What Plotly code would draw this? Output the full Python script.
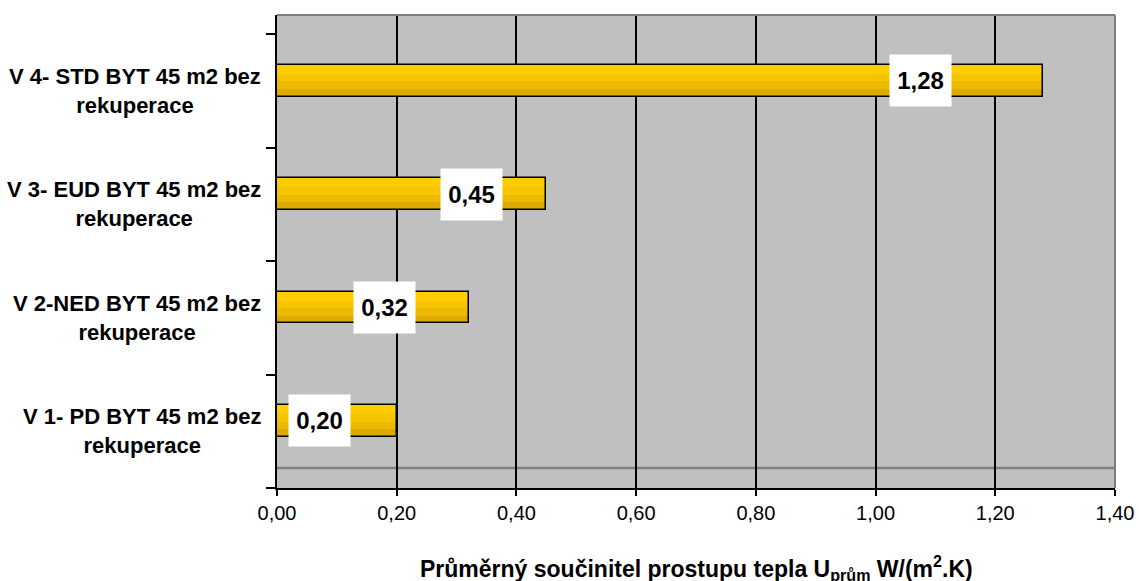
import plotly.graph_objects as go

# ---- data ----
categories = [
    "V 1- PD BYT 45 m2 bez<br>rekuperace",
    "V 2-NED BYT 45 m2 bez<br>rekuperace",
    "V 3- EUD BYT 45 m2 bez<br>rekuperace",
    "V 4- STD BYT 45 m2 bez<br>rekuperace",
]
values = [0.20, 0.32, 0.45, 1.28]
label_texts = ["0,20", "0,32", "0,45", "1,28"]
x_ticks = [0.0, 0.2, 0.4, 0.6, 0.8, 1.0, 1.2, 1.4]
x_title = "Průměrný součinitel prostupu tepla U<sub>prům</sub> W/(m<sup>2</sup>.K)"

# ---- styling ----
FONT = "Liberation Sans, Arial, sans-serif"
label_shift_px = [-46, -53, -43, -91]
pos = list(range(len(values)))
BW = 0.28

fig = go.Figure()
# gradient-like bands
bands = [(1.0, "#FFCC00"), (0.72, "#F6C400"), (0.48, "#ECBA00"), (0.24, "#DDAB00")]
for frac, col in bands:
    fig.add_trace(go.Bar(
        x=values, y=pos, orientation="h", base=0,
        width=BW * frac, offset=-BW / 2,
        marker=dict(color=col, line=dict(width=0)),
        hoverinfo="skip", showlegend=False,
    ))
# outline
fig.add_trace(go.Bar(
    x=values, y=pos, orientation="h", base=0,
    width=BW, offset=-BW / 2,
    marker=dict(color="rgba(0,0,0,0)", line=dict(color="black", width=1.5)),
    showlegend=False,
))

annotations = []
for i, (v, t) in enumerate(zip(values, label_texts)):
    annotations.append(dict(
        x=v, y=i, xref="x", yref="y", text="<b>" + t + "</b>",
        showarrow=False, xanchor="right", yanchor="middle",
        xshift=label_shift_px[i], width=59, height=49,
        bgcolor="white", font=dict(family=FONT, size=24, color="black"),
    ))
for i, c in enumerate(categories):
    annotations.append(dict(
        x=0, y=i - 0.091, xref="paper", yref="y", text=c,
        showarrow=False, xanchor="right", yanchor="middle", xshift=-14,
        align="center", font=dict(family=FONT, size=22, color="black", weight="bold"),
    ))
annotations.append(dict(
    x=0.5, y=0, xref="paper", yref="paper", text="<b>" + x_title + "</b>",
    showarrow=False, xanchor="center", yanchor="top", yshift=-62,
    font=dict(family=FONT, size=23, color="black"),
))

y_bounds = [-0.591 + k for k in range(5)]

fig.update_layout(
    width=1139, height=581,
    margin=dict(l=277, r=24, t=15, b=93, autoexpand=False),
    paper_bgcolor="white", plot_bgcolor="#C0C0C0",
    barmode="overlay", bargap=0,
    separators=", ",
    font=dict(family=FONT, size=20, color="black"),
    annotations=annotations,
    xaxis=dict(
        range=[0, 1.4], tickvals=x_ticks, tickformat=".2f",
        automargin=False,
        showgrid=True, gridcolor="black", gridwidth=1.5,
        showline=True, linecolor="black", linewidth=2,
        ticks="outside", ticklen=6, tickcolor="black", tickwidth=1.5,
        tickfont=dict(family=FONT, size=20, color="black"),
        zeroline=False,
    ),
    yaxis=dict(
        range=[-0.591, 3.58], tickvals=y_bounds, ticktext=[""] * 5,
        automargin=False,
        showgrid=False, zeroline=False,
        showline=True, linecolor="black", linewidth=2,
        ticks="outside", ticklen=9, tickcolor="black", tickwidth=1.5,
    ),
    shapes=[
        dict(type="line", xref="paper", yref="y", x0=0, x1=1, y0=-0.414, y1=-0.414,
             line=dict(color="#808080", width=2.5), layer="below"),
        dict(type="line", xref="paper", yref="paper", x0=0, x1=1, y0=1, y1=1,
             line=dict(color="#808080", width=2)),
        dict(type="line", xref="paper", yref="paper", x0=1, x1=1, y0=0, y1=1,
             line=dict(color="#808080", width=2)),
    ],
)

fig.write_html(
    "out.html",
    config={"displayModeBar": False},
    post_script="document.body.style.margin='0';document.body.style.overflow='hidden';",
)
